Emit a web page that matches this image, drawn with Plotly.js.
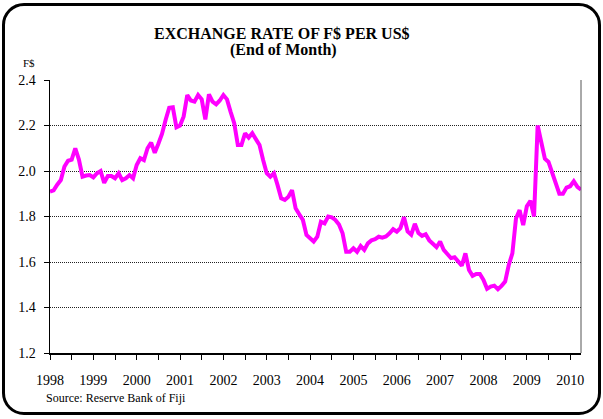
<!DOCTYPE html>
<html>
<head>
<meta charset="utf-8">
<script src="https://cdn.plot.ly/plotly-3.0.1.min.js"></script>
<style>
  html, body { margin: 0; padding: 0; background: #fff; }
  #wrap { position: relative; width: 603px; height: 419px; background: #fff; overflow: hidden; }
  #frame { position: absolute; left: 2px; top: 3px; width: 593px; height: 406px; border: 3px solid #000; border-radius: 22px; background: #fff; }
  #chart { position: absolute; left: 0; top: 0; width: 603px; height: 419px; }
</style>
</head>
<body>
<div id="wrap"><div id="frame"></div><div id="chart"></div></div>
<script>
// Monthly end-of-month F$ per US$, Jan 1998 .. Apr 2010 (index 0 = Jan 1998)
const years = ['1998','1999','2000','2001','2002','2003','2004','2005','2006','2007','2008','2009','2010'];
const rate = [
  1.91,1.915,1.94,1.96,2.02,2.045,2.05,2.10,2.05,1.975,1.98,1.982,
  1.972,1.99,2.00,1.948,1.978,1.978,1.968,1.99,1.96,1.968,1.982,1.968,
  2.026,2.056,2.048,2.10,2.125,2.08,2.12,2.163,2.224,2.278,2.28,2.192,
  2.20,2.24,2.334,2.31,2.305,2.334,2.315,2.227,2.337,2.305,2.293,2.31,
  2.334,2.315,2.26,2.21,2.114,2.114,2.166,2.147,2.166,2.143,2.114,2.048,
  1.99,1.975,1.99,1.938,1.88,1.873,1.887,1.916,1.836,1.81,1.785,1.719,
  1.704,1.69,1.711,1.777,1.77,1.80,1.796,1.785,1.765,1.726,1.645,1.645,
  1.66,1.645,1.67,1.653,1.682,1.695,1.70,1.711,1.707,1.712,1.726,1.744,
  1.733,1.749,1.797,1.734,1.72,1.768,1.727,1.715,1.722,1.695,1.68,1.665,
  1.69,1.653,1.635,1.617,1.621,1.604,1.584,1.638,1.565,1.539,1.547,1.547,
  1.521,1.482,1.492,1.496,1.48,1.495,1.514,1.587,1.638,1.791,1.828,1.762,
  1.845,1.869,1.80,2.20,2.12,2.054,2.04,1.99,1.945,1.90,1.90,1.927,
  1.933,1.955,1.93,1.918
];
const yTicks = [1.2, 1.4, 1.6, 1.8, 2.0, 2.2, 2.4];

const monthIdx = rate.map((_, i) => i);
const tickVals = [];
const tickText = [];
for (let k = 0; k <= (years.length - 1) * 2; k++) {
  tickVals.push(k * 6);
  tickText.push(k % 2 === 0 ? years[k / 2] : '');
}

const serif = 'Liberation Serif, Times New Roman, serif';

const trace = {
  x: monthIdx,
  y: rate,
  type: 'scatter',
  mode: 'lines',
  line: { color: '#FF00FF', width: 4 },
  hoverinfo: 'skip'
};

const layout = {
  width: 603,
  height: 419,
  margin: { l: 50, r: 22, t: 80, b: 66 },
  paper_bgcolor: 'rgba(0,0,0,0)',
  plot_bgcolor: 'rgba(0,0,0,0)',
  showlegend: false,
  font: { family: serif, color: '#000', size: 13 },
  xaxis: {
    range: [0, rate.length - 1],
    tickmode: 'array',
    tickvals: tickVals,
    ticktext: tickText,
    ticks: 'outside',
    ticklen: 5,
    tickwidth: 1,
    tickcolor: '#000',
    ticklabelstandoff: 9,
    showgrid: false,
    zeroline: false,
    showline: true,
    linecolor: '#000',
    linewidth: 1.5,
    tickfont: { family: serif, size: 14, color: '#000' }
  },
  yaxis: {
    range: [1.2, 2.4],
    tickmode: 'array',
    tickvals: yTicks,
    ticktext: yTicks.map(v => v.toFixed(1)),
    ticks: 'outside',
    ticklen: 5,
    tickwidth: 1,
    tickcolor: '#000',
    ticklabelstandoff: 5,
    showgrid: true,
    gridcolor: '#222',
    gridwidth: 1,
    griddash: '1px,1px',
    zeroline: false,
    showline: true,
    linecolor: '#000',
    linewidth: 1.5,
    mirror: false,
    tickfont: { family: serif, size: 14, color: '#000' }
  },
  shapes: [
    { type: 'line', xref: 'paper', yref: 'paper', x0: 1, x1: 1, y0: 0, y1: 1,
      line: { color: '#555', width: 1 } }
  ],
  annotations: [
    { text: '<b>EXCHANGE RATE OF F$ PER US$</b>', xref: 'paper', yref: 'paper',
      x: 0.437, y: 1, yshift: 47, showarrow: false, xanchor: 'center', yanchor: 'middle',
      font: { family: serif, size: 16, color: '#000' } },
    { text: '<b>(End of Month)</b>', xref: 'paper', yref: 'paper',
      x: 0.439, y: 1, yshift: 30, showarrow: false, xanchor: 'center', yanchor: 'middle',
      font: { family: serif, size: 16, color: '#000' } },
    { text: 'F$', xref: 'paper', yref: 'paper',
      x: 0, xshift: -21, y: 1, yshift: 17, showarrow: false, xanchor: 'center', yanchor: 'middle',
      font: { family: serif, size: 11, color: '#000' } },
    { text: 'Source: Reserve Bank of Fiji', xref: 'paper', yref: 'paper',
      x: 0, xshift: -6, y: 0, yshift: -45, showarrow: false, xanchor: 'left', yanchor: 'middle',
      font: { family: serif, size: 12, color: '#000' } }
  ]
};

Plotly.newPlot('chart', [trace], layout, { displayModeBar: false, staticPlot: true });
</script>
</body>
</html>
